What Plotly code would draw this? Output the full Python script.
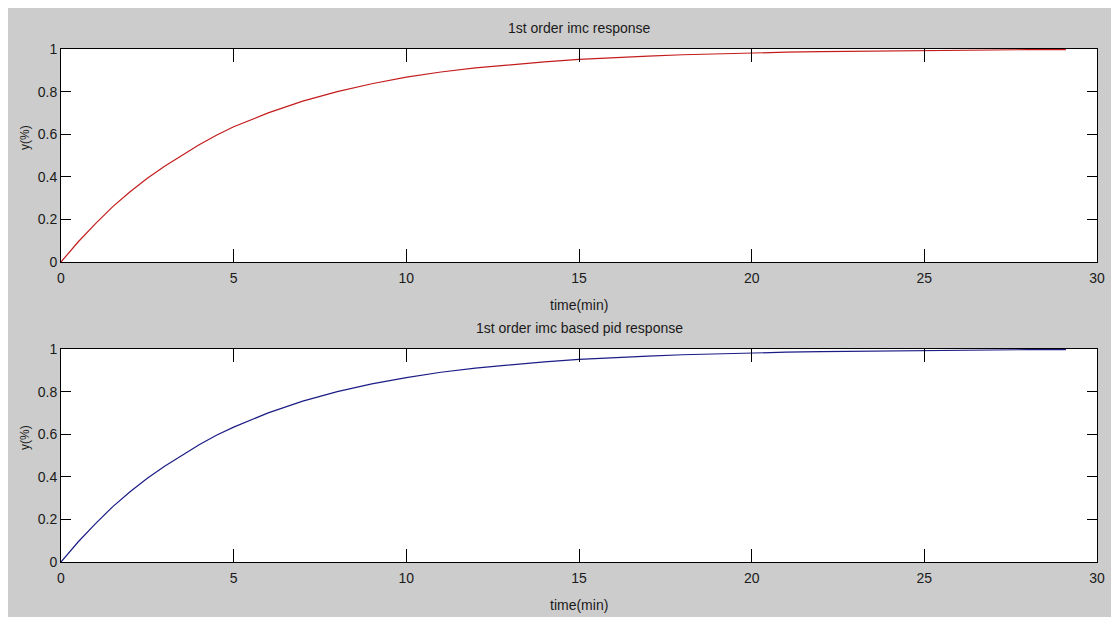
import plotly.graph_objects as go

# ---- data ----
t_imc = [0, 0.5, 1, 1.5, 2, 2.5, 3, 3.5, 4, 4.5, 5, 6, 7, 8, 9, 10, 11, 12, 13, 14,
         15, 16, 17, 18, 19, 20, 21, 22, 23, 24, 25, 26, 27, 28, 29.1]
y_imc = [0, 0.095, 0.18, 0.26, 0.33, 0.393, 0.45, 0.50, 0.55, 0.595, 0.635, 0.70, 0.755,
         0.80, 0.837, 0.868, 0.892, 0.911, 0.926, 0.94, 0.951, 0.96, 0.967, 0.973, 0.978,
         0.982, 0.985, 0.988, 0.99, 0.992, 0.993, 0.995, 0.996, 0.997, 0.997]
t_pid = [0, 0.5, 1, 1.5, 2, 2.5, 3, 3.5, 4, 4.5, 5, 6, 7, 8, 9, 10, 11, 12, 13, 14,
         15, 16, 17, 18, 19, 20, 21, 22, 23, 24, 25, 26, 27, 28, 29.1]
y_pid = [0, 0.095, 0.18, 0.26, 0.33, 0.393, 0.45, 0.50, 0.55, 0.595, 0.633, 0.70, 0.755,
         0.80, 0.836, 0.866, 0.891, 0.91, 0.926, 0.94, 0.951, 0.96, 0.967, 0.973, 0.978,
         0.982, 0.985, 0.988, 0.99, 0.992, 0.993, 0.995, 0.996, 0.997, 0.997]
x_ticks = [0, 5, 10, 15, 20, 25, 30]
y_ticks = [0, 0.2, 0.4, 0.6, 0.8, 1]
y_tick_text = ["0", "0.2", "0.4", "0.6", "0.8", "1"]
titles = ["1st order imc response", "1st order imc based pid response"]
x_label = "time(min)"
y_label = "y(%)"

# figure is placed by the page at (8, 8); sizes below are in figure pixels
W, H = 1111, 609
ML, MR, MT, MB = 53, 22, 41, 55
PW, PH = W - ML - MR, H - MT - MB   # 1036 x 513
FONT = "Liberation Sans, Arial, sans-serif"
GREY = "#cccccc"
TXT = "#1a1a1a"


def fx(p):  # figure pixel x -> paper
    return (p - ML) / PW


def fy(p):  # figure pixel y -> paper
    return (MT + PH - p) / PH


fig = go.Figure()
fig.add_trace(go.Scatter(x=t_imc, y=y_imc, mode="lines", line=dict(color="#c41c1c", width=1.2),
                         xaxis="x", yaxis="y", showlegend=False, hoverinfo="skip"))
fig.add_trace(go.Scatter(x=t_pid, y=y_pid, mode="lines", line=dict(color="#1c1c86", width=1.2),
                         xaxis="x2", yaxis="y2", showlegend=False, hoverinfo="skip"))

dom_top = [fy(254), 1]
dom_bot = [0, fy(341)]

common_x = dict(range=[0, 30], tickvals=x_ticks, ticks="inside", ticklen=13, tickwidth=1,
                tickcolor="black", showline=True, linecolor="black", linewidth=1,
                mirror="ticks", showgrid=False, zeroline=False, automargin=False,
                ticklabelstandoff=3, tickfont=dict(family=FONT, size=14, color=TXT))
common_y = dict(range=[0, 1], tickvals=y_ticks, ticktext=y_tick_text, ticks="inside", ticklen=10,
                tickwidth=1, tickcolor="black", showline=True, linecolor="black", linewidth=1,
                mirror="ticks", showgrid=False, zeroline=False, automargin=False,
                tickfont=dict(family=FONT, size=14, color=TXT))

cx = fx((53 + 1089) / 2)
ann = []
for i, (ty, ly, yl) in enumerate([(20, 297, 130), (320, 597, 430)]):
    ann.append(dict(text=titles[i], x=cx, y=fy(ty), xref="paper", yref="paper", showarrow=False,
                    font=dict(family=FONT, size=14, color=TXT), xanchor="center", yanchor="middle"))
    ann.append(dict(text=x_label, x=cx, y=fy(ly), xref="paper", yref="paper", showarrow=False,
                    font=dict(family=FONT, size=14, color=TXT), xanchor="center", yanchor="middle"))
    ann.append(dict(text=y_label, x=fx(17), y=fy(yl), xref="paper", yref="paper", showarrow=False,
                    textangle=-90, font=dict(family=FONT, size=12, color=TXT),
                    xanchor="center", yanchor="middle"))

fig.update_layout(
    width=W, height=H, autosize=False,
    margin=dict(l=ML, r=MR, t=MT, b=MB, autoexpand=False),
    paper_bgcolor=GREY, plot_bgcolor="white",
    xaxis=dict(domain=[0, 1], anchor="y", **common_x),
    yaxis=dict(domain=dom_top, anchor="x", **common_y),
    xaxis2=dict(domain=[0, 1], anchor="y2", **common_x),
    yaxis2=dict(domain=dom_bot, anchor="x2", **common_y),
    annotations=ann,
)

fig.write_html("out.html")
